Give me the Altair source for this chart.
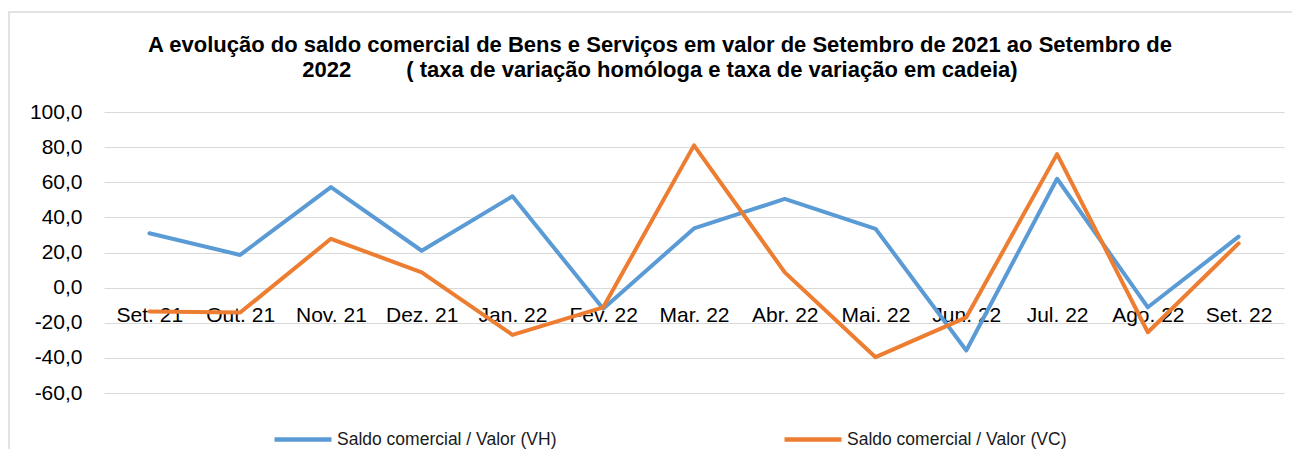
import altair as alt
import pandas as pd

months = ["Set. 21", "Out. 21", "Nov. 21", "Dez. 21", "Jan. 22", "Fev. 22", "Mar. 22",
          "Abr. 22", "Mai. 22", "Jun. 22", "Jul. 22", "Ago. 22", "Set. 22"]
vh = [31.0, 18.6, 57.2, 21.0, 52.0, -12.0, 33.7, 50.5, 33.5, -35.8, 62.0, -11.2, 29.0]
vc = [-13.6, -14.2, 27.8, 8.7, -26.9, -11.2, 81.0, 8.7, -39.6, -16.9, 76.0, -25.4, 25.2]
series_names = ["Saldo comercial / Valor (VH)", "Saldo comercial / Valor (VC)"]
series_colors = ["#5B9BD5", "#ED7D31"]
y_ticks = [-60, -40, -20, 0, 20, 40, 60, 80, 100]

rows = []
for i, m in enumerate(months):
    rows.append({"mes": m, "serie": series_names[0], "valor": vh[i], "ordem": 0})
for i, m in enumerate(months):
    rows.append({"mes": m, "serie": series_names[1], "valor": vc[i], "ordem": 1})
df = pd.DataFrame(rows)

FONT = "Liberation Sans"

frame = alt.Chart(pd.DataFrame({"a": [0]})).mark_rect(
    fill="transparent", stroke="#d9d9d9", strokeWidth=1.5
).encode(
    x=alt.value(-95), x2=alt.value(1300), y=alt.value(-100), y2=alt.value(600)
)

lines = alt.Chart(df).mark_line(strokeWidth=4, strokeJoin="round", strokeCap="round").encode(
    x=alt.X("mes:O", sort=months, scale=alt.Scale(padding=0.5),
            axis=alt.Axis(orient="bottom", offset=-106, domain=False, ticks=False,
                          labelPadding=17, labelFontSize=21, labelFont=FONT,
                          labelAngle=0, grid=False, title=None, labelColor="#000")),
    y=alt.Y("valor:Q", scale=alt.Scale(domain=[-60, 100], nice=False, zero=False),
            axis=alt.Axis(values=y_ticks,
                          labelExpr="replace(replace(format(datum.value, '.1f'), '.', ','), '\u2212', '-')",
                          grid=True, gridColor="#d9d9d9", gridWidth=1, domain=False,
                          ticks=False, labelPadding=22, labelFontSize=21, labelFont=FONT,
                          labelColor="#000", title=None)),
    color=alt.Color("serie:N", sort=series_names,
                    scale=alt.Scale(domain=series_names, range=series_colors),
                    legend=alt.Legend(orient="none", legendX=168, legendY=296.5,
                                      direction="horizontal", columns=2, columnPadding=218,
                                      symbolType="stroke", symbolSize=3249,
                                      symbolStrokeWidth=4.5, labelFontSize=17.5,
                                      labelFont=FONT, labelOffset=3, title=None,
                                      labelLimit=400, labelColor="#1a1a1a")),
    order=alt.Order("ordem:Q"),
)

title_line1 = "A evolução do saldo comercial de Bens e Serviços em valor de Setembro de 2021 ao Setembro de"
title_line2 = "2022" + "\u00a0" * 9 + "( taxa de variação homóloga e taxa de variação em cadeia)"

chart = alt.layer(frame, lines).properties(
    width=1180,
    height=281,
    autosize=alt.AutoSizeParams(type="none"),
    padding={"left": 96, "top": 104, "right": 8, "bottom": 56},
    title=alt.TitleParams(text=[title_line1, title_line2], fontSize=22, font=FONT,
                          fontWeight="bold", anchor="middle", frame="group", dx=-34,
                          offset=-70.5, lineHeight=25, color="#000"),
).configure_view(strokeWidth=0)

chart.save("out.html", embed_options={"renderer": "svg", "actions": False})
